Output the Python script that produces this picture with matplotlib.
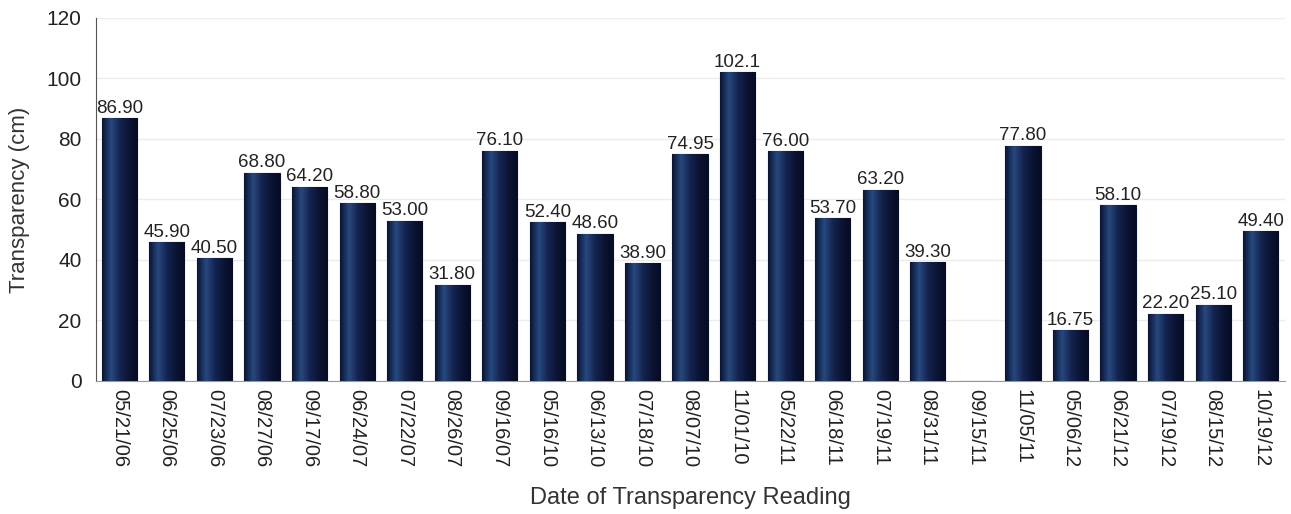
import numpy as np
import matplotlib
matplotlib.use("Agg")
import matplotlib.pyplot as plt
from matplotlib.colors import LinearSegmentedColormap

plt.rcParams['font.family'] = ['Liberation Sans', 'DejaVu Sans']

dates = ['05/21/06', '06/25/06', '07/23/06', '08/27/06', '09/17/06', '06/24/07',
         '07/22/07', '08/26/07', '09/16/07', '05/16/10', '06/13/10', '07/18/10',
         '08/07/10', '11/01/10', '05/22/11', '06/18/11', '07/19/11', '08/31/11',
         '09/15/11', '11/05/11', '05/06/12', '06/21/12', '07/19/12', '08/15/12',
         '10/19/12']
values = [86.90, 45.90, 40.50, 68.80, 64.20, 58.80, 53.00, 31.80, 76.10, 52.40,
          48.60, 38.90, 74.95, 102.1, 76.00, 53.70, 63.20, 39.30, None, 77.80,
          16.75, 58.10, 22.20, 25.10, 49.40]
labels = ['86.90', '45.90', '40.50', '68.80', '64.20', '58.80', '53.00', '31.80',
          '76.10', '52.40', '48.60', '38.90', '74.95', '102.1', '76.00', '53.70',
          '63.20', '39.30', '', '77.80', '16.75', '58.10', '22.20', '25.10', '49.40']

fig = plt.figure(figsize=(12.91, 5.14), dpi=100)
ax = fig.add_axes([0.074, 0.259, 0.921, 0.706])

x = np.arange(len(dates))
h = [v if v is not None else 0 for v in values]
bars = ax.bar(x, h, width=0.74, color='#0d1940', edgecolor='#08102a', linewidth=0.8, zorder=2)

# shaded look on each bar
cmap = LinearSegmentedColormap.from_list('bar', ['#0b1434', '#26497f', '#14244f', '#0b1434', '#060c22'])
grad = np.linspace(0, 1, 64).reshape(1, -1)
for b in bars:
    if b.get_height() <= 0:
        continue
    im = ax.imshow(grad, cmap=cmap, aspect='auto', zorder=3,
                   extent=[b.get_x(), b.get_x() + b.get_width(), 0, b.get_height()])
    im.set_clip_path(b)

for xi, v, lab in zip(x, h, labels):
    if lab:
        ax.text(xi, v + 0.5, lab, ha='center', va='bottom', fontsize=13.5, color='#222222', zorder=4)

ax.set_xlim(-0.5, len(dates) - 0.5)
ax.set_ylim(0, 120)
ax.set_yticks(range(0, 121, 20))
ax.set_xticks(x)
ax.set_xticklabels(dates, rotation=-90, fontsize=14.5, color='#222222')
ax.tick_params(axis='y', labelsize=15, colors='#222222', length=0, pad=10)
ax.tick_params(axis='x', length=0, pad=6)
ax.yaxis.grid(True, color='#ececec', linewidth=1, zorder=0)
ax.set_axisbelow(True)
for s in ['top', 'right']:
    ax.spines[s].set_visible(False)
ax.spines['left'].set_color('#555555')
ax.spines['bottom'].set_color('#999999')

ax.set_ylabel('Transparency (cm)', fontsize=16, color='#333333', labelpad=12)
ax.set_xlabel('Date of Transparency Reading', fontsize=17, color='#333333', labelpad=14)

fig.savefig('out.png', dpi=100)
